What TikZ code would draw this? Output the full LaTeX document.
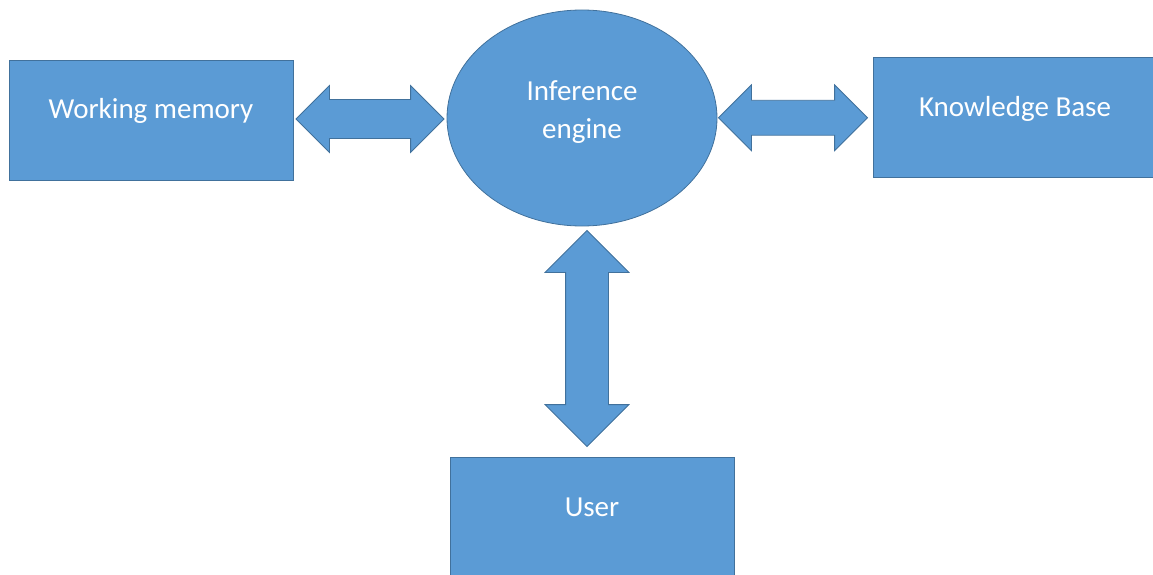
\documentclass[tikz,border=0pt]{standalone}
\usepackage{fontspec}
\setmainfont{Carlito}
\usetikzlibrary{shapes.geometric, shapes.arrows}
\definecolor{officeblue}{HTML}{5B9BD5}
\definecolor{officeedge}{HTML}{41719C}

\begin{document}
\begin{tikzpicture}[
  x=1pt, y=-1pt,
  box/.style = {rectangle, draw=officeedge, fill=officeblue, line width=0.8pt, minimum width=284pt, minimum height=120pt, inner sep=0pt, text=white, font=\fontsize{29}{38}\selectfont, text height=20pt, text depth=22pt},
  bubble/.style = {ellipse, draw=officeedge, fill=officeblue, line width=0.8pt, minimum width=270pt, minimum height=216pt, inner sep=0pt, align=center, text=white, font=\fontsize{29}{38}\selectfont, text height=62pt, text depth=20pt},
  link/.style = {double arrow, draw=officeedge, fill=officeblue, line width=0.8pt, double arrow tip angle=90, inner sep=0pt, text depth=0pt}
  ]
  \useasboundingbox (0,0) rectangle (1153,575);
  \clip (0,0) rectangle (1153,575);

  % Noeuds
  \node[box] (memory) at (151,120) {Working memory};
  \node[bubble] (engine) at (582,118) {Inference\\engine};
  \node[box] (kbase) at (1015,117.5) {Knowledge Base};
  \node[box] (user) at (592,517) {User};

  % Flèches
  \path (memory.east) -- (engine.west) node[link, midway, minimum height=148pt, minimum width=66pt, text height=38pt, double arrow head extend=14pt] {};
  \path (engine.east) -- (kbase.west) node[link, midway, xshift=-2pt, minimum height=149pt, minimum width=65pt, text height=34pt, double arrow head extend=15.5pt] {};
  \path (engine.south) -- (user.north) node[link, midway, yshift=3pt, rotate=90, minimum height=216pt, minimum width=83pt, text height=42pt, double arrow head extend=20.5pt] {};

\end{tikzpicture}
\end{document}
